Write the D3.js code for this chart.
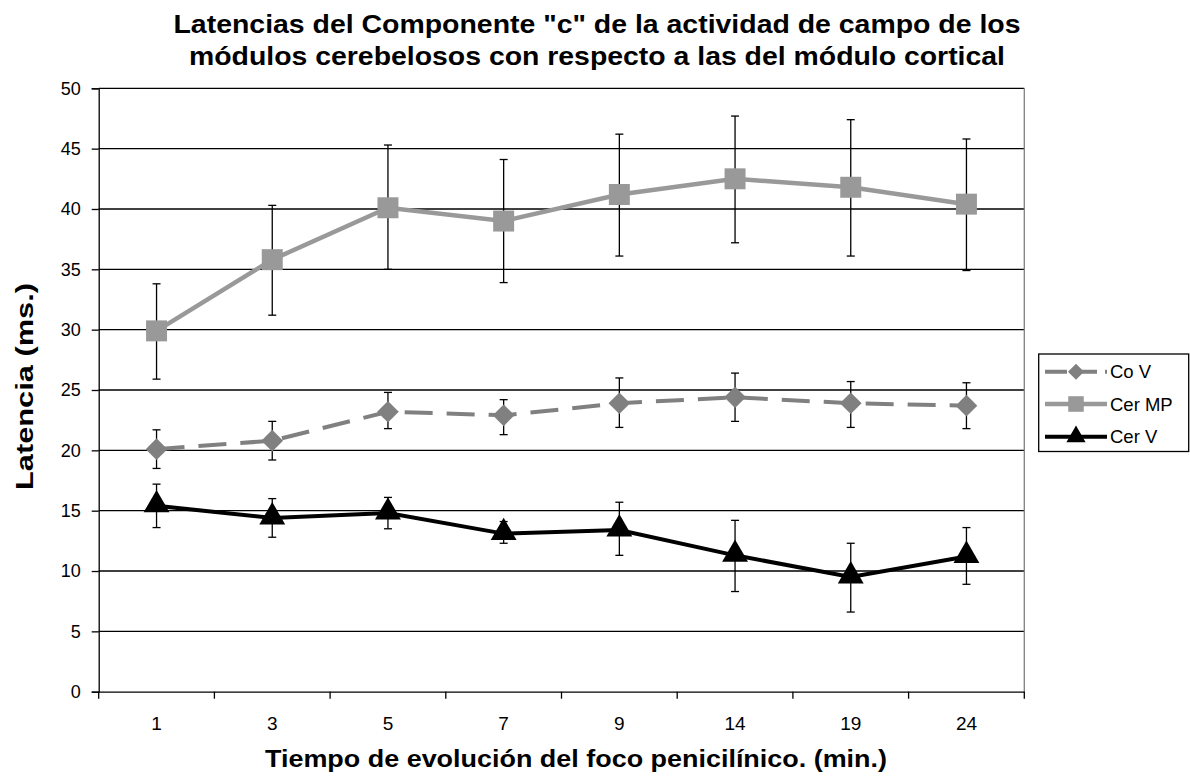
<!DOCTYPE html>
<html><head><meta charset="utf-8">
<script src="https://cdn.jsdelivr.net/npm/d3@7"></script>
<style>body{margin:0;background:#fff;} svg{display:block;font-family:"Liberation Sans",Arial,sans-serif;}</style>
</head><body>
<svg id="c" width="1190" height="781"></svg>
<script>
const categories = ["1","3","5","7","9","14","19","24"];
const coV      = [20.1, 20.8, 23.2, 22.9, 23.9, 24.4, 23.9, 23.7];
const coVHi    = [21.7, 22.4, 24.8, 24.2, 26.0, 26.4, 25.7, 25.6];
const coVLo    = [18.5, 19.2, 21.8, 21.3, 21.9, 22.4, 21.9, 21.8];
const cerMP    = [29.9, 35.8, 40.1, 39.0, 41.2, 42.5, 41.8, 40.4];
const cerMPHi  = [33.8, 40.3, 45.3, 44.1, 46.2, 47.7, 47.4, 45.8];
const cerMPLo  = [25.9, 31.2, 35.0, 33.9, 36.1, 37.2, 36.1, 34.9];
const cerV     = [15.4, 14.4, 14.8, 13.1, 13.4, 11.3, 9.5, 11.2];
const cerVHi   = [17.2, 16.0, 16.1, 14.1, 15.7, 14.2, 12.3, 13.6];
const cerVLo   = [13.6, 12.8, 13.5, 12.3, 11.3, 8.3, 6.6, 8.9];
const yTicks   = [0,5,10,15,20,25,30,35,40,45,50];
const titleLines = ['Latencias del Componente "c" de la actividad de campo de los','módulos cerebelosos con respecto a las del módulo cortical'];

const svg = d3.select("#c");
const L = 98.7, R = 1024.3, T = 88.3, B = 691.7;
const x = d3.scaleBand().domain(categories).range([L, R]).padding(0);
const cx = d => x(d) + x.bandwidth()/2;
const y = d3.scaleLinear().domain([0,50]).range([B, T]);

// grid
svg.append("g").selectAll("line").data(yTicks.filter(t=>t>0)).join("line")
  .attr("x1", L).attr("x2", R).attr("y1", d=>y(d)).attr("y2", d=>y(d))
  .attr("stroke", "#000").attr("stroke-width", 1.3);
svg.append("line").attr("x1",R).attr("x2",R).attr("y1",T).attr("y2",B).attr("stroke","#808080").attr("stroke-width",1.3);

// axes
const yAxis = svg.append("g").attr("transform",`translate(${L},0)`)
  .call(d3.axisLeft(y).tickValues(yTicks).tickSize(7).tickPadding(11));
const xAxis = svg.append("g").attr("transform",`translate(0,${B})`)
  .call(d3.axisBottom(x).tickSize(0).tickPadding(25));
[yAxis,xAxis].forEach(a=>{
  a.select(".domain").attr("stroke","#000").attr("stroke-width",1.3);
  a.selectAll("line").attr("stroke","#000").attr("stroke-width",1.3);
  a.selectAll("text").attr("fill","#000").attr("font-family","Liberation Sans, Arial, sans-serif");
});
yAxis.selectAll("text").attr("font-size",18);
xAxis.selectAll("text").attr("font-size",19);
// x ticks at band edges
svg.append("g").selectAll("line").data(categories.concat(["_end"])).join("line")
  .attr("x1", (d,i)=> i<categories.length ? x(d) : R)
  .attr("x2", (d,i)=> i<categories.length ? x(d) : R)
  .attr("y1", B).attr("y2", B+7).attr("stroke","#000").attr("stroke-width",1.3);

// series
const series = [
  {name:"Co V", v:coV, hi:coVHi, lo:coVLo, color:"#808080", width:4, dash:"28,14", marker:"diamond"},
  {name:"Cer MP", v:cerMP, hi:cerMPHi, lo:cerMPLo, color:"#999999", width:4.5, dash:null, marker:"square"},
  {name:"Cer V", v:cerV, hi:cerVHi, lo:cerVLo, color:"#000000", width:4, dash:null, marker:"triangle"}
];
function markerPath(m, scale){
  if(m==="diamond") return d3.symbol(d3.symbolDiamond2, 300*scale)();
  if(m==="square") return d3.symbol(d3.symbolSquare, 440*scale)();
  return d3.symbol(d3.symbolTriangle, 290*scale)();
}
const line = d3.line().x((d,i)=>cx(categories[i])).y(d=>y(d));
series.forEach(s=>{
  const g = svg.append("g");
  const eb = g.append("g").selectAll("g").data(categories).join("g");
  eb.append("line").attr("x1",d=>cx(d)).attr("x2",d=>cx(d))
    .attr("y1",(d,i)=>y(s.hi[i])).attr("y2",(d,i)=>y(s.lo[i]))
    .attr("stroke","#000").attr("stroke-width",1.3);
  eb.append("line").attr("x1",d=>cx(d)-4).attr("x2",d=>cx(d)+4)
    .attr("y1",(d,i)=>y(s.hi[i])).attr("y2",(d,i)=>y(s.hi[i])).attr("stroke","#000").attr("stroke-width",1.3);
  eb.append("line").attr("x1",d=>cx(d)-4).attr("x2",d=>cx(d)+4)
    .attr("y1",(d,i)=>y(s.lo[i])).attr("y2",(d,i)=>y(s.lo[i])).attr("stroke","#000").attr("stroke-width",1.3);
  g.append("path").attr("d", line(s.v)).attr("fill","none").attr("stroke",s.color)
    .attr("stroke-width",s.width).attr("stroke-dasharray",s.dash);
  g.append("g").selectAll("path").data(s.v).join("path")
    .attr("d", markerPath(s.marker,1))
    .attr("transform",(d,i)=>`translate(${cx(categories[i])},${y(d) + (s.marker==="triangle"?-1:0)})`)
    .attr("fill", s.color);
});

// legend
const lg = svg.append("g");
lg.append("rect").attr("x",1038.7).attr("y",354).attr("width",150).attr("height",97.5)
  .attr("fill","#fff").attr("stroke","#000").attr("stroke-width",1.3);
const ly = [371.7, 404, 436.7];
series.forEach((s,i)=>{
  lg.append("line").attr("x1",1045).attr("x2",1107).attr("y1",ly[i]).attr("y2",ly[i])
    .attr("stroke",s.color).attr("stroke-width",s.width).attr("stroke-dasharray", s.dash ? "22,8" : null);
  lg.append("path").attr("d", markerPath(s.marker, 0.55)).attr("transform",`translate(1076,${ly[i]})`).attr("fill",s.color);
  lg.append("text").attr("x",1110).attr("y",ly[i]+6.5).text(s.name).attr("font-size",18.5).attr("fill","#000");
});

// titles
const titleW = [847, 816];
svg.append("text").attr("text-anchor","middle")
  .attr("font-weight","bold").attr("font-size",25)
  .selectAll("tspan").data(titleLines).join("tspan")
  .attr("x",597).attr("y",(d,i)=>33+i*32)
  .attr("textLength",(d,i)=>titleW[i]).attr("lengthAdjust","spacingAndGlyphs").text(d=>d);
svg.append("text").attr("x",576).attr("y",767).attr("text-anchor","middle")
  .attr("font-weight","bold").attr("font-size",24)
  .attr("textLength",622).attr("lengthAdjust","spacingAndGlyphs")
  .text("Tiempo de evolución del foco penicilínico. (min.)");
svg.append("text").attr("transform","translate(33,386.5) rotate(-90)").attr("text-anchor","middle")
  .attr("font-weight","bold").attr("font-size",23)
  .attr("textLength",207).attr("lengthAdjust","spacingAndGlyphs")
  .text("Latencia (ms.)");
</script>
</body></html>
